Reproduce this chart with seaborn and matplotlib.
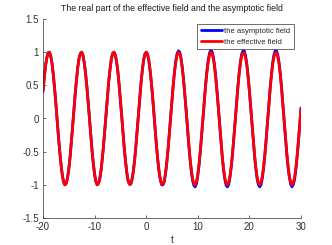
import matplotlib
matplotlib.use("Agg")
import matplotlib.pyplot as plt
import seaborn as sns
import numpy as np
import pandas as pd
from matplotlib.ticker import FuncFormatter

# time grid, step 0.25 from -20 to 30
t = np.linspace(-20, 30, 201)

# both fields coincide up to t = 2
common = [0.41, 0.62, 0.8, 0.92, 0.99, 1.0, 0.94, 0.83, 0.66, 0.45,
          0.22, -0.03, -0.28, -0.5, -0.7, -0.86, -0.96, -1.0, -0.98, -0.9,
          -0.76, -0.58, -0.35, -0.11, 0.14, 0.38, 0.59, 0.78, 0.91, 0.98,
          1.0, 0.95, 0.84, 0.68, 0.48, 0.25, 0.0, -0.24, -0.48, -0.68,
          -0.84, -0.95, -1.0, -0.98, -0.91, -0.78, -0.6,
          -0.39, -0.15, 0.11, 0.35, 0.57, 0.75, 0.9, 0.98, 1.0, 0.96,
          0.86, 0.71, 0.51, 0.28, 0.04, -0.21, -0.45, -0.65, -0.82, -0.94,
          -0.99, -0.99, -0.92, -0.8, -0.63, -0.42, -0.18, 0.07, 0.32, 0.54,
          0.73, 0.88, 0.97, 1.0,
          0.97, 0.88, 0.73, 0.54, 0.32, 0.07, -0.18, -0.42]

# effective field for t > 2
eff_right = [-0.63, -0.8, -0.92, -0.99, -0.99, -0.94, -0.82, -0.65, -0.45, -0.21,
             0.04, 0.28, 0.51, 0.71, 0.86, 0.96, 1.0, 0.98, 0.9, 0.75,
             0.57, 0.35, 0.11, -0.15, -0.39,
             -0.6, -0.78, -0.91, -0.98, -1.0, -0.95, -0.84, -0.68, -0.48, -0.24,
             0.0, 0.25, 0.48, 0.68, 0.84, 0.95, 1.0, 0.98, 0.91, 0.78,
             0.59, 0.38, 0.14, -0.11, -0.35, -0.58, -0.76, -0.9, -0.98, -1.0,
             -0.96, -0.86, -0.7, -0.5, -0.28, -0.03, 0.22, 0.45, 0.66, 0.83,
             0.94, 0.99, 0.99, 0.92, 0.8, 0.62, 0.41, 0.17, -0.08, -0.32,
             -0.55, -0.74, -0.88, -0.97, -1.0, -0.97, -0.87, -0.73, -0.53, -0.31,
             -0.06, 0.19, 0.42, 0.64, 0.81, 0.93, 0.99, 0.99, 0.93, 0.82,
             0.65, 0.44, 0.2, -0.05, -0.29, -0.52, -0.71, -0.87, -0.96, -1.0,
             -0.97, -0.89, -0.75, -0.56, -0.34, -0.09, 0.15]

# asymptotic field for t > 2 (swings slightly wider)
asym_right = [-0.63, -0.81, -0.93, -1.0, -1.0, -0.95, -0.83, -0.66, -0.45, -0.21,
              0.04, 0.29, 0.52, 0.72, 0.88, 0.98, 1.02, 1.0, 0.91, 0.77,
              0.58, 0.35, 0.11, -0.15,
              -0.4, -0.62, -0.8, -0.94, -1.01, -1.03, -0.98, -0.86, -0.7, -0.49,
              -0.25, 0.0, 0.26, 0.5, 0.71, 0.87, 0.98, 1.03, 1.01, 0.93,
              0.8, 0.61, 0.39, 0.14, -0.12, -0.37, -0.59, -0.78, -0.92, -1.01,
              -1.03, -0.99, -0.88, -0.72, -0.52, -0.28, -0.03, 0.23, 0.47, 0.68,
              0.85, 0.97, 1.02, 1.02, 0.95, 0.82, 0.64, 0.42, 0.17, -0.08,
              -0.33, -0.56, -0.76, -0.91, -1.0, -1.03, -1.0, -0.9, -0.75, -0.55,
              -0.32, -0.06, 0.19, 0.44, 0.65, 0.83, 0.96, 1.02, 1.02, 0.96,
              0.84, 0.67, 0.45, 0.21, -0.05, -0.3, -0.54, -0.74, -0.89, -0.99,
              -1.03, -1.0, -0.92, -0.77, -0.58, -0.35, -0.1, 0.16]

xticks = [-20, -10, 0, 10, 20, 30]
yticks = [-1.5, -1, -0.5, 0, 0.5, 1, 1.5]

df = pd.DataFrame({"t": t, "asym": common + asym_right, "eff": common + eff_right})

sns.set_style("ticks")
plt.rcParams["font.family"] = ["Liberation Sans", "DejaVu Sans"]
plt.rcParams["axes.unicode_minus"] = False

axcol = "#333333"
fig = plt.figure(figsize=(3.32, 2.45), dpi=100)
ax = fig.add_axes([43 / 332, 1 - 218 / 245, 258 / 332, 199 / 245])

sns.lineplot(data=df, x="t", y="asym", ax=ax, color="#0000ff", linewidth=2.0,
             label="the asymptotic field")
sns.lineplot(data=df, x="t", y="eff", ax=ax, color="#ff0000", linewidth=2.0,
             label="the effective field")

ax.set_xlim(-20, 30)
ax.set_ylim(-1.5, 1.5)
ax.set_xticks(xticks)
ax.set_yticks(yticks)
ax.yaxis.set_major_formatter(FuncFormatter(lambda v, p: f"{v:g}"))
ax.tick_params(direction="in", length=2.5, width=0.5, labelsize=7,
               colors=axcol, pad=3)
for s in ["top", "right"]:
    ax.spines[s].set_visible(False)
for s in ["left", "bottom"]:
    ax.spines[s].set_color(axcol)
    ax.spines[s].set_linewidth(0.5)

ax.set_xlabel("t", fontsize=7, color=axcol, labelpad=2)
ax.set_ylabel("")
ax.set_title("The real part of the effective field and the asymptotic field",
             fontsize=6.3, color="#1a1a1a", pad=6)

leg = ax.legend(loc="upper right", bbox_to_anchor=(294 / 332, 1 - 24 / 245),
                bbox_transform=fig.transFigure, borderaxespad=0,
                fontsize=5.5, frameon=True, fancybox=False, handlelength=2.8,
                handletextpad=0.3, borderpad=0.45, labelspacing=0.45)
leg.get_frame().set_edgecolor(axcol)
leg.get_frame().set_linewidth(0.5)
leg.get_frame().set_alpha(1)

fig.savefig("out.png", dpi=100)
